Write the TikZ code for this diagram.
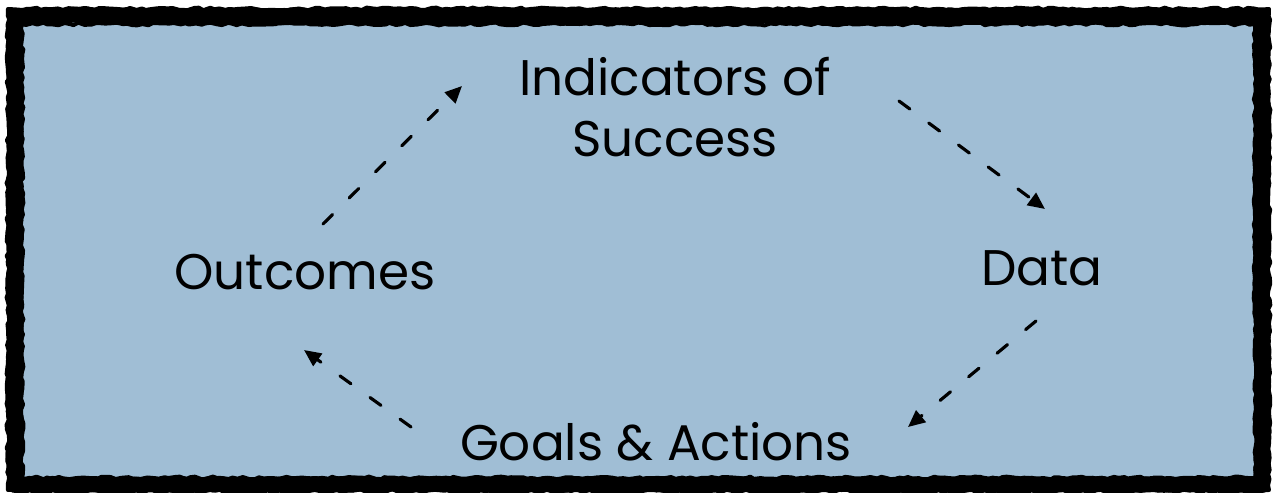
\documentclass[tikz,border=0pt]{standalone}
\usepackage{fontspec}
\setmainfont{Poppins}
\usetikzlibrary{arrows.meta, decorations.pathmorphing}
\definecolor{boxblue}{RGB}{160,190,213}

\begin{document}
\begin{tikzpicture}[
    x=0.02cm, y=-0.02cm,
    every node/.style={align=center, inner sep=0pt, font=\fontsize{28.5}{35}\selectfont},
    arrow/.style={-{Triangle[length=0.34cm, width=0.3cm]}, dash pattern=on 0.27cm off 0.47cm, line width=1.8pt, line cap=round},
    rough/.style={decorate, line join=round, line cap=round, decoration={random steps, segment length=3pt, amplitude=0.8pt}}
]
\useasboundingbox (0,0) rectangle (1276,493);
\fill[white] (0,0) rectangle (1276,493);
\fill[boxblue] (15,16) rectangle (1262,485);
\draw[rough, line width=0.32cm] (15,16) rectangle (1262,485);
\draw[rough, line width=0.08cm] (8,9) rectangle (1269,490);
\draw[rough, line width=0.08cm] (22,24) rectangle (1255,478);

\node (indicators) at (675,107) {Indicators of\\Success};
\node (outcomes) at (305,272) {Outcomes};
\node (data) at (1042,268) {Data};
\node (goals) at (656,442) {Goals \& Actions};

\draw [arrow] ([shift={(18,-48)}]outcomes.center) -- ([shift={(-213,-21)}]indicators.center);
\draw [arrow] ([shift={(224,-6)}]indicators.center) -- ([shift={(3,-59)}]data.center);
\draw [arrow] ([shift={(-6,53)}]data.center) -- ([shift={(252,-15)}]goals.center);
\draw [arrow] ([shift={(-245,-15)}]goals.center) -- ([shift={(-1,78)}]outcomes.center);
\end{tikzpicture}
\end{document}
